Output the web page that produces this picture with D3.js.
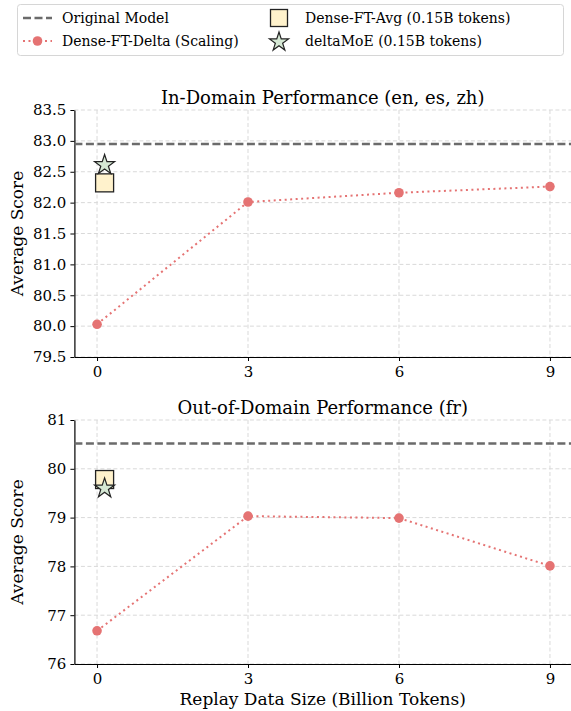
<!DOCTYPE html>
<html>
<head>
<meta charset="utf-8">
<script src="https://cdn.jsdelivr.net/npm/d3@7"></script>
<style>
  body { margin: 0; background: #fff; }
  svg { display: block; }
  svg text { font-family: "DejaVu Serif", serif !important; }
</style>
</head>
<body>
<div id="chart"></div>
<script>
// data
const replaySizes = [0, 3, 6, 9];
const xTicks = [0, 3, 6, 9];
const panelTitles = ["In-Domain Performance (en, es, zh)", "Out-of-Domain Performance (fr)"];
const inDomainDelta = [80.03, 82.01, 82.16, 82.26];
const outDomainDelta = [76.68, 79.03, 78.99, 78.01];
const originalModel = [82.95, 80.52];
const denseFtAvg = [82.32, 79.78];
const deltaMoE = [82.61, 79.6];
const avgTokens = 0.15;
const yDomains = [[79.5, 83.5], [76, 81]];
const yTicksIn = [79.5, 80.0, 80.5, 81.0, 81.5, 82.0, 82.5, 83.0, 83.5];
const yTicksOut = [76, 77, 78, 79, 80, 81];
const legendLabels = ["Original Model", "Dense-FT-Delta (Scaling)", "Dense-FT-Avg (0.15B tokens)", "deltaMoE (0.15B tokens)"];

const W = 571, H = 711;
const colors = {
  orig: "#6b6b6b",
  delta: "#e57373",
  avgFill: "#fff2cc",
  moeFill: "#d5e8d4",
  edge: "#222"
};

const svg = d3.select("#chart").append("svg")
  .attr("width", W).attr("height", H);

const x = d3.scaleLinear().domain([-0.45, 9.45]).range([74.4, 572.6]);

//star path like matplotlib's '*'
function starPath(cx, cy, R) {
  const r = R * 0.382, pts = [];
  for (let i = 0; i < 10; i++) {
    const a = -Math.PI / 2 + i * Math.PI / 5, rr = i % 2 ? r : R;
    pts.push([cx + rr * Math.cos(a), cy + rr * Math.sin(a)]);
  }
  return "M" + pts.map(p => p.join(",")).join("L") + "Z";
}

const panels = [
  { top: 110, bottom: 357, delta: inDomainDelta, ticks: yTicksIn, fmt: d3.format(".1f") },
  { top: 420, bottom: 664, delta: outDomainDelta, ticks: yTicksOut, fmt: d3.format("d") }
];

panels.forEach((p, k) => {
  const y = d3.scaleLinear().domain(yDomains[k]).range([p.bottom, p.top]);
  const g = svg.append("g");

  // grid
  g.append("g").selectAll("line").data(p.ticks).join("line")
    .attr("x1", x.range()[0]).attr("x2", x.range()[1])
    .attr("y1", d => y(d)).attr("y2", d => y(d))
    .attr("stroke", "#d9d9d9").attr("stroke-width", 1).attr("stroke-dasharray", "4,2.5");
  g.append("g").selectAll("line").data(xTicks).join("line")
    .attr("x1", d => x(d)).attr("x2", d => x(d))
    .attr("y1", p.top).attr("y2", p.bottom)
    .attr("stroke", "#d9d9d9").attr("stroke-width", 1).attr("stroke-dasharray", "4,2.5");

  // axes
  const ya = g.append("g").attr("transform", `translate(${x.range()[0]},0)`)
    .call(d3.axisLeft(y).tickValues(p.ticks).tickFormat(p.fmt).tickSize(4).tickSizeOuter(0).tickPadding(4));
  const xa = g.append("g").attr("transform", `translate(0,${p.bottom})`)
    .call(d3.axisBottom(x).tickValues(xTicks).tickSize(4).tickSizeOuter(0).tickPadding(5));
  [ya, xa].forEach(a => {
    a.attr("font-family", null);
    a.select(".domain").attr("stroke", "#000").attr("stroke-width", 1.2);
    a.selectAll(".tick line").attr("stroke", "#000").attr("stroke-width", 1);
    a.selectAll(".tick text").attr("font-size", 15).attr("fill", "#000");
  });

  // original model reference line
  g.append("line")
    .attr("x1", x.range()[0]).attr("x2", x.range()[1])
    .attr("y1", y(originalModel[k])).attr("y2", y(originalModel[k]))
    .attr("stroke", colors.orig).attr("stroke-width", 2.5).attr("stroke-dasharray", "8,3.5");

  // dense-ft-delta scaling curve
  const line = d3.line().x((d, i) => x(replaySizes[i])).y(d => y(d));
  g.append("path").datum(p.delta)
    .attr("d", line).attr("fill", "none")
    .attr("stroke", colors.delta).attr("stroke-width", 2).attr("stroke-dasharray", "2,3.5");
  g.append("g").selectAll("circle").data(p.delta).join("circle")
    .attr("cx", (d, i) => x(replaySizes[i])).attr("cy", d => y(d)).attr("r", 4.8)
    .attr("fill", colors.delta);

  // dense-ft-avg square
  const s = 18;
  g.append("rect")
    .attr("x", x(avgTokens) - s / 2).attr("y", y(denseFtAvg[k]) - s / 2)
    .attr("width", s).attr("height", s)
    .attr("fill", colors.avgFill).attr("stroke", colors.edge).attr("stroke-width", 1.3);

  // deltaMoE star
  g.append("path")
    .attr("d", starPath(x(avgTokens), y(deltaMoE[k]), 10.5))
    .attr("fill", colors.moeFill).attr("stroke", colors.edge).attr("stroke-width", 1.2)
    .attr("stroke-linejoin", "miter");

  // title + y label
  g.append("text")
    .attr("x", (x.range()[0] + 571) / 2).attr("y", p.top - 6)
    .attr("text-anchor", "middle").attr("font-size", 18)
    .text(panelTitles[k]);
  g.append("text")
    .attr("transform", `translate(23,${(p.top + p.bottom) / 2}) rotate(-90)`)
    .attr("text-anchor", "middle").attr("font-size", 17)
    .text("Average Score");
});

svg.append("text")
  .attr("x", (x.range()[0] + 571) / 2).attr("y", 705)
  .attr("text-anchor", "middle").attr("font-size", 17)
  .text("Replay Data Size (Billion Tokens)");

// legend
const lg = svg.append("g");
lg.append("rect")
  .attr("x", 17.5).attr("y", 4.5).attr("width", 546).attr("height", 51).attr("rx", 3)
  .attr("fill", "#fff").attr("fill-opacity", 0.8).attr("stroke", "#d6d6d6");
const rowY = [18, 41];
// col 1
lg.append("line").attr("x1", 23).attr("x2", 52).attr("y1", rowY[0]).attr("y2", rowY[0])
  .attr("stroke", colors.orig).attr("stroke-width", 2.5).attr("stroke-dasharray", "8,3.5");
lg.append("line").attr("x1", 23).attr("x2", 52).attr("y1", rowY[1]).attr("y2", rowY[1])
  .attr("stroke", colors.delta).attr("stroke-width", 2).attr("stroke-dasharray", "2,3.5");
lg.append("circle").attr("cx", 37.5).attr("cy", rowY[1]).attr("r", 4.8).attr("fill", colors.delta);
// col 2
lg.append("rect").attr("x", 279 - 8.5).attr("y", rowY[0] - 8.5).attr("width", 17).attr("height", 17)
  .attr("fill", colors.avgFill).attr("stroke", colors.edge).attr("stroke-width", 1.3);
lg.append("path").attr("d", starPath(279, rowY[1] + 1, 10))
  .attr("fill", colors.moeFill).attr("stroke", colors.edge).attr("stroke-width", 1.2);
const textPos = [[62, rowY[0]], [62, rowY[1]], [305, rowY[0]], [305, rowY[1]]];
lg.selectAll("text.lab").data(legendLabels).join("text")
  .attr("class", "lab")
  .attr("x", (d, i) => textPos[i][0]).attr("y", (d, i) => textPos[i][1])
  .attr("dy", "0.35em").attr("font-size", 14)
  .text(d => d);
</script>
</body>
</html>
